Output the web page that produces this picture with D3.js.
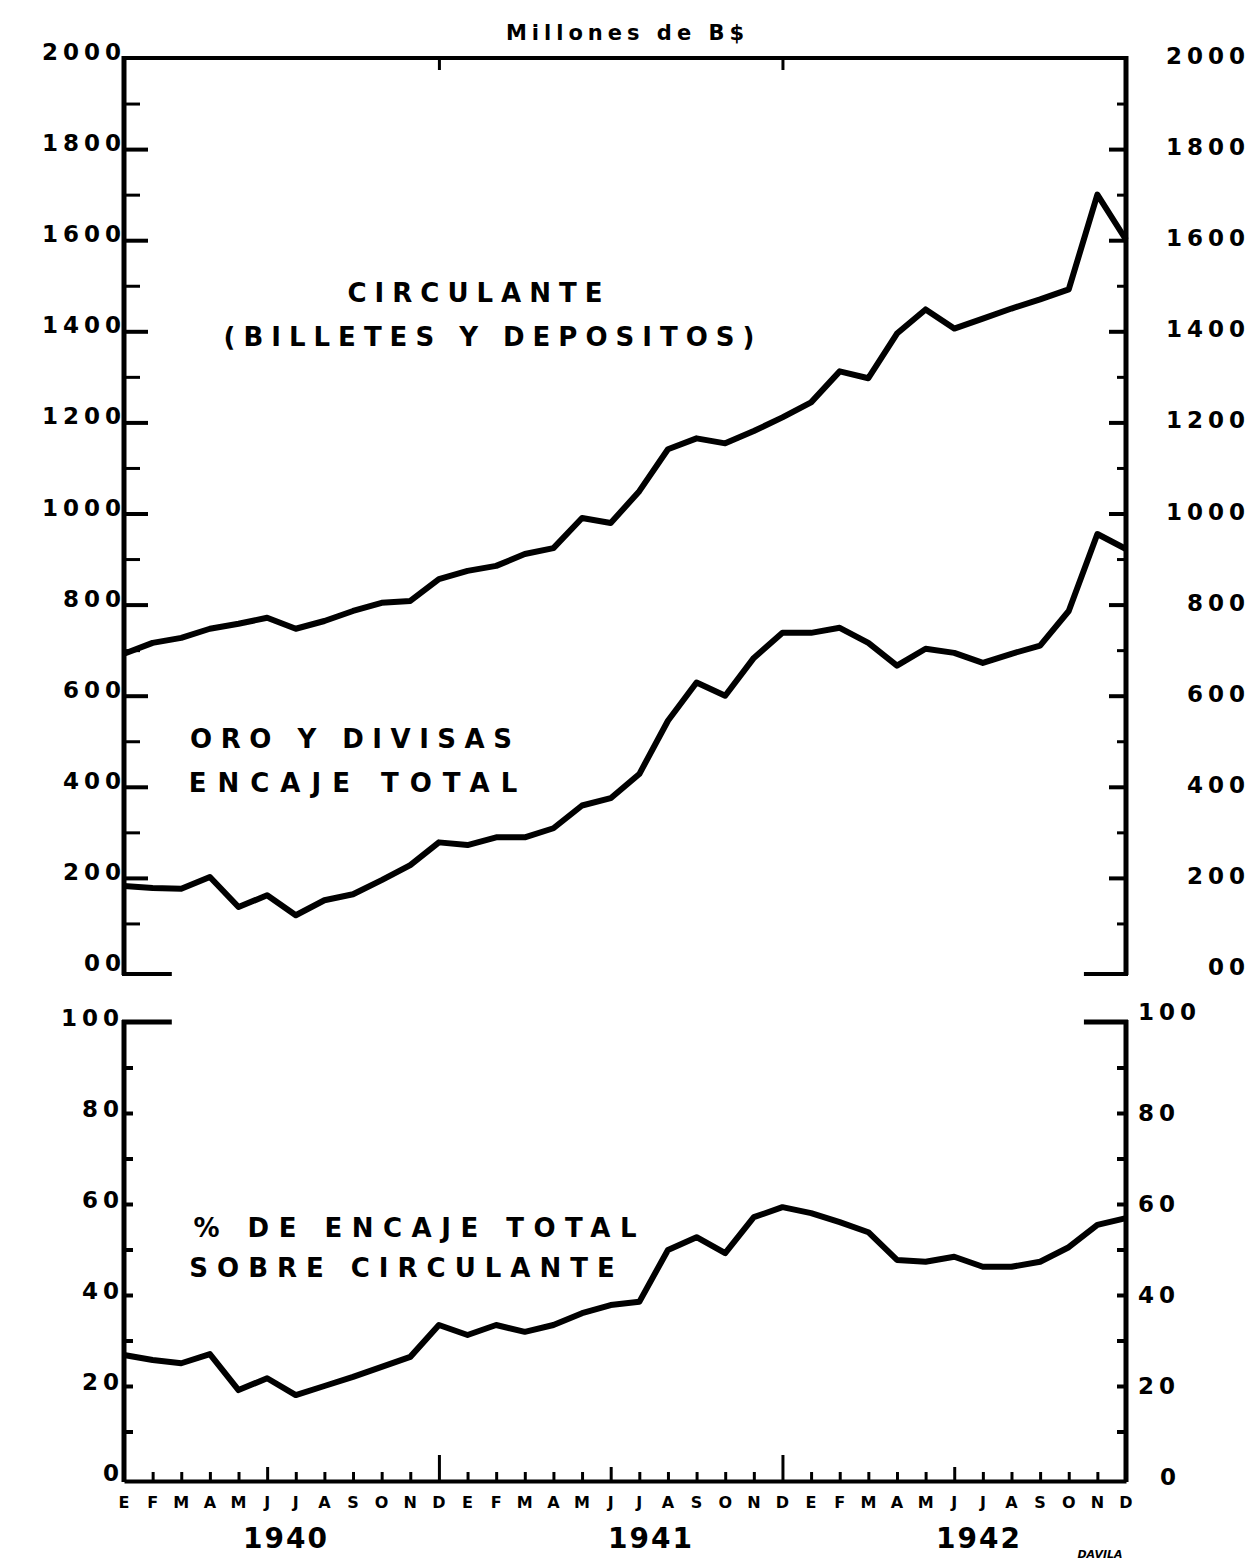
<!DOCTYPE html>
<html>
<head>
<meta charset="utf-8">
<script src="https://cdn.jsdelivr.net/npm/d3@7/dist/d3.min.js"></script>
<style>
    body { margin: 0; background: #fff; }
    text { font-family: 'DejaVu Sans', sans-serif; fill: #000; font-weight: 700; }
    .axis path, .axis line { stroke: #000; }
</style>
</head>
<body>
<div id="chart"></div>
<script>
// month initials (Spanish), three years
const months = ['E','F','M','A','M','J','J','A','S','O','N','D',
                'E','F','M','A','M','J','J','A','S','O','N','D',
                'E','F','M','A','M','J','J','A','S','O','N','D'];
const years = ['1940', '1941', '1942'];

// millones de B$, monthly 1940-1942
const circulante = [692, 716, 727, 747, 758, 771, 747, 764, 786, 804, 808, 856,
                    874, 885, 911, 924, 990, 979, 1049, 1141, 1165, 1154, 1181, 1211,
                    1244, 1312, 1297, 1395, 1448, 1406, 1428, 1450, 1470, 1492, 1700, 1601];
const oroDivisas = [182, 178, 176, 202, 136, 162, 118, 151, 164, 195, 228, 278,
                    272, 289, 289, 309, 359, 375, 428, 545, 629, 600, 683, 738,
                    738, 749, 716, 666, 703, 694, 672, 692, 710, 786, 955, 922];
// % de encaje total sobre circulante
const porcentaje = [26.8, 25.7, 25.0, 27.0, 19.1, 21.7, 18.0, 20.0, 22.0, 24.2, 26.4, 33.4,
                    31.2, 33.4, 31.9, 33.4, 36.0, 37.8, 38.5, 49.9, 52.7, 49.2, 57.1, 59.3,
                    58.0, 56.0, 53.8, 47.7, 47.3, 48.4, 46.2, 46.2, 47.3, 50.5, 55.4, 56.9];

const topTicks = [0, 200, 400, 600, 800, 1000, 1200, 1400, 1600, 1800, 2000];
const topMinorTicks = [100, 300, 500, 700, 900, 1100, 1300, 1500, 1700, 1900];
const topLabels = ['00', '200', '400', '600', '800', '1000', '1200', '1400', '1600', '1800', '2000'];
const pctTicks = [0, 10, 20, 30, 40, 50, 60, 70, 80, 90, 100];
const pctLabelTicks = [0, 20, 40, 60, 80, 100];
const pctLabels = ['0', '20', '40', '60', '80', '100'];

const width = 1250;
const height = 1563;

const svg = d3.select('#chart')
    .append('svg')
        .attr('width', width)
        .attr('height', height)
        .attr('viewBox', [0, 0, width, height]);

const x = d3.scaleLinear().domain([0, 35]).range([124, 1126]);
const yTop = d3.scaleLinear().domain([0, 2000]).range([969, 58]);
const yPct = d3.scaleLinear().domain([0, 100]).range([1477, 1022]);

// ---- frame of top panel
svg.append('line')
    .attr('x1', x(0) - 2).attr('x2', x(35) + 2)
    .attr('y1', yTop(2000)).attr('y2', yTop(2000))
    .attr('stroke', '#000').attr('stroke-width', 4);

// small year ticks hanging from the top border
svg.append('g')
    .attr('class', 'axis')
    .attr('transform', `translate(0, ${yTop(2000)})`)
    .call(d3.axisBottom(x).tickValues([11, 23]).tickSize(12).tickSizeOuter(0).tickFormat(''))
    .call(g => g.select('.domain').remove())
    .selectAll('line').attr('stroke-width', 3);

const vAxis = (scale, x0, side, major, minor, majorLen, minorLen, y0, y1) => {
    const make = side === 'left' ? d3.axisRight : d3.axisLeft;
    const g = svg.append('g').attr('class', 'axis').attr('transform', `translate(${x0}, 0)`);
    g.append('line')
        .attr('x1', 0).attr('x2', 0)
        .attr('y1', y0).attr('y2', y1)
        .attr('stroke', '#000').attr('stroke-width', 5);
    g.append('g')
        .call(make(scale).tickValues(major).tickSize(majorLen).tickSizeOuter(0).tickFormat(''))
        .call(s => s.select('.domain').remove())
        .selectAll('line').attr('stroke-width', 4);
    if (minor) {
        g.append('g')
            .call(make(scale).tickValues(minor).tickSize(minorLen).tickSizeOuter(0).tickFormat(''))
            .call(s => s.select('.domain').remove())
            .selectAll('line').attr('stroke-width', 3);
    }
};

vAxis(yTop, x(0), 'left', topTicks.slice(1, -1), topMinorTicks, 24, 16, yTop(2000) - 2, yTop(0) + 6);
vAxis(yTop, x(35), 'right', topTicks.slice(1, -1), topMinorTicks, 17, 9, yTop(2000) - 2, yTop(0) + 6);

// bottom stubs of the top panel
[[0, 1.6], [33.6, 35]].forEach(([a, b]) => {
    svg.append('line')
        .attr('x1', x(a) - 2).attr('x2', x(b) + 2)
        .attr('y1', yTop(0) + 5).attr('y2', yTop(0) + 5)
        .attr('stroke', '#000').attr('stroke-width', 4);
});

// ---- frame of lower panel
vAxis(yPct, x(0), 'left', pctTicks.slice(1, -1), null, 9, 0, yPct(100) - 2, yPct(0) + 5);
vAxis(yPct, x(35), 'right', pctTicks.slice(1, -1), null, 9, 0, yPct(100) - 2, yPct(0) + 5);
[[0, 1.6], [33.6, 35]].forEach(([a, b]) => {
    svg.append('line')
        .attr('x1', x(a) - 2).attr('x2', x(b) + 2)
        .attr('y1', yPct(100)).attr('y2', yPct(100))
        .attr('stroke', '#000').attr('stroke-width', 5);
});

// month axis
const monthIdx = d3.range(months.length);
const monthAxis = svg.append('g')
    .attr('class', 'axis')
    .attr('transform', `translate(0, ${yPct(0) + 4})`);
monthAxis.call(d3.axisTop(x).tickValues(monthIdx).tickSizeOuter(0)
        .tickSize(0).tickFormat(''))
    .select('.domain').attr('stroke-width', 4);
monthAxis.selectAll('.tick line')
    .attr('stroke-width', 3)
    .attr('y2', d => (d % 12 === 11 ? -26 : d % 12 === 5 ? -14 : -9));

svg.append('g')
    .selectAll('text')
    .data(months)
    .join('text')
        .attr('x', (d, i) => x(i))
        .attr('y', 1508)
        .attr('text-anchor', 'middle')
        .style('font-size', '16px')
        .text(d => d);

svg.append('g')
    .selectAll('text')
    .data(years)
    .join('text')
        .attr('x', (d, i) => [286, 651, 979][i])
        .attr('y', 1548)
        .attr('text-anchor', 'middle')
        .style('font-size', '28px')
        .style('letter-spacing', '2px')
        .text(d => d);

// ---- tick labels
const labelStyle = sel => sel.style('font-size', '23px').style('letter-spacing', '5px');

svg.append('g')
    .selectAll('text')
    .data(topTicks)
    .join('text')
        .attr('x', 126)
        .attr('y', d => yTop(d) + 2)
        .attr('text-anchor', 'end')
        .call(labelStyle)
        .text((d, i) => topLabels[i]);
svg.append('g')
    .selectAll('text')
    .data(topTicks)
    .join('text')
        .attr('x', 1250)
        .attr('y', d => yTop(d) + 6)
        .attr('text-anchor', 'end')
        .call(labelStyle)
        .text((d, i) => topLabels[i]);
svg.append('g')
    .selectAll('text')
    .data(pctLabelTicks)
    .join('text')
        .attr('x', 124)
        .attr('y', d => yPct(d) + 4)
        .attr('text-anchor', 'end')
        .call(labelStyle)
        .text((d, i) => pctLabels[i]);
svg.append('g')
    .selectAll('text')
    .data(pctLabelTicks)
    .join('text')
        .attr('x', d => d === 0 ? 1160 : 1138)
        .attr('y', d => yPct(d) + (d === 100 ? -2 : 8))
        .attr('text-anchor', 'start')
        .call(labelStyle)
        .text((d, i) => pctLabels[i]);

// ---- the lines
const lineTop = d3.line().x((d, i) => x(i)).y(d => yTop(d));
const linePct = d3.line().x((d, i) => x(i)).y(d => yPct(d));

[circulante, oroDivisas].forEach(series => {
    svg.append('path')
        .datum(series)
        .attr('d', lineTop)
        .attr('fill', 'none')
        .attr('stroke', '#000')
        .attr('stroke-width', 6)
        .attr('stroke-linejoin', 'round');
});
svg.append('path')
    .datum(porcentaje)
    .attr('d', linePct)
    .attr('fill', 'none')
    .attr('stroke', '#000')
    .attr('stroke-width', 6)
    .attr('stroke-linejoin', 'round');

// ---- captions (trailing letter-spacing compensated in cx)
const caption = (txt, cx, cy, size, spacing) => {
    svg.append('text')
        .attr('x', cx + spacing / 2)
        .attr('y', cy)
        .attr('text-anchor', 'middle')
        .style('font-size', size + 'px')
        .style('letter-spacing', spacing + 'px')
        .text(txt);
};
caption('Millones de B$', 625, 40, 21, 5);
caption('CIRCULANTE', 475, 302, 26, 8);
caption('(BILLETES Y DEPOSITOS)', 489, 346, 26, 8);
caption('ORO Y DIVISAS', 351, 748, 26, 8.5);
caption('ENCAJE TOTAL', 353, 792, 26, 11);
caption('% DE ENCAJE TOTAL', 415, 1237, 26, 9.5);
caption('SOBRE CIRCULANTE', 402, 1277, 26, 9);

svg.append('text')
    .attr('x', 1100)
    .attr('y', 1558)
    .attr('text-anchor', 'middle')
    .style('font-size', '11px')
    .style('font-style', 'italic')
    .text('DAVILA');
</script>
</body>
</html>
